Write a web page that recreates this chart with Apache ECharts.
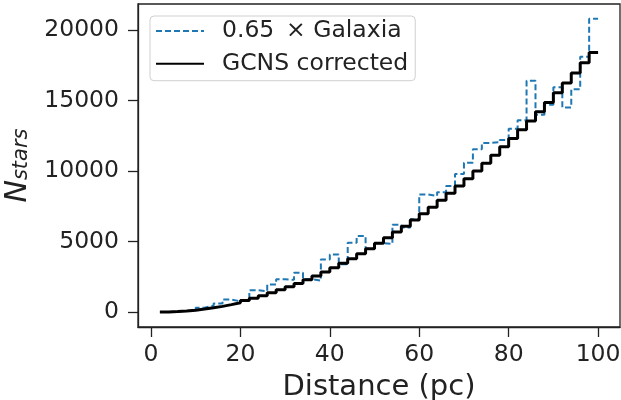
<!DOCTYPE html>
<html>
<head>
<meta charset="utf-8">
<script src="https://cdn.jsdelivr.net/npm/echarts@6/dist/echarts.min.js"></script>
<style>
html,body{margin:0;padding:0;background:#fff;}
#chart{width:621px;height:400px;}
</style>
</head>
<body>
<div id="chart"></div>
<script>
// Bin left edges (pc), bin width 2 pc, last edge 100
const binEdges = [2,4,6,8,10,12,14,16,18,20,22,24,26,28,30,32,34,36,38,40,42,44,46,48,50,52,54,56,58,60,62,64,66,68,70,72,74,76,78,80,82,84,86,88,90,92,94,96,98,100];
// 0.65 x Galaxia counts per bin
const galaxia = [20,60,100,170,330,470,620,900,780,900,1560,1500,1970,2350,2300,2800,2350,2250,3750,4100,3400,4930,5400,4500,4900,4850,6200,6000,6600,8350,8250,8500,8950,9800,10600,11550,12000,12050,12200,13000,13600,16400,14000,14700,15950,14500,15800,18100,20800];
// GCNS corrected counts per bin
const gcns = [20,50,95,150,230,320,420,545,680,830,1000,1180,1380,1590,1820,2050,2310,2580,2860,3160,3470,3800,4150,4510,4890,5280,5690,6100,6540,6990,7450,7930,8430,8940,9470,10010,10560,11130,11720,12320,12930,13560,14210,14870,15550,16240,16950,17670,18400];
const xTicks = [0,20,40,60,80,100];
const yTicks = [0,5000,10000,15000,20000];
const seriesNames = ['0.65\u2002× Galaxia', 'GCNS corrected'];

function stepData(vals){
  const out = [];
  for (let i = 0; i < vals.length; i++) out.push([binEdges[i], vals[i]]);
  out.push([binEdges[vals.length], vals[vals.length-1]]);
  return out;
}

const FONT = 'DejaVu Sans';
const FS = 23.5;
const chart = echarts.init(document.getElementById('chart'), null, {renderer:'canvas'});
chart.setOption({
  animation:false,
  backgroundColor:'#fff',
  textStyle:{fontFamily:FONT},
  grid:{left:138, right:1, top:4, bottom:73, containLabel:false, outerBoundsMode:'none',
        show:true, borderColor:'#222', borderWidth:1.3, backgroundColor:'transparent'},
  legend:{
    orient:'vertical', left:150, top:16,
    padding:[3,7,5,5], itemGap:8.7,
    itemWidth:48, itemHeight:14,
    backgroundColor:'rgba(255,255,255,0.8)', borderColor:'#d0d0d0', borderWidth:1, borderRadius:4,
    itemStyle:{opacity:0},
    textStyle:{fontFamily:FONT, fontSize:FS, color:'#222', padding:[0,0,0,13], lineHeight:24},
    data:seriesNames
  },
  xAxis:{
    type:'value', min:-2.9, max:104.9,
    name:'Distance (pc)', nameLocation:'middle', nameGap:46,
    nameTextStyle:{fontFamily:FONT, fontSize:29, color:'#222'},
    axisLine:{show:true, onZero:false, lineStyle:{color:'#222', width:1.3}},
    axisTick:{show:true, length:10, lineStyle:{color:'#222', width:1.3}, customValues:xTicks},
    axisLabel:{fontFamily:FONT, fontSize:FS, color:'#222', margin:16, customValues:xTicks, formatter:function(v){return String(v);}},
    splitLine:{show:false}
  },
  yAxis:{
    type:'value', min:-1040, max:21840,
    name:'{n|N}{s|stars}', nameLocation:'middle', nameGap:95, nameRotate:90,
    nameTextStyle:{
      rich:{
        n:{fontFamily:FONT, fontSize:30, fontStyle:'italic', color:'#222', padding:[0,0,7,0]},
        s:{fontFamily:FONT, fontSize:21, fontStyle:'italic', color:'#222'}
      }
    },
    axisLine:{show:true, onZero:false, lineStyle:{color:'#222', width:1.3}},
    axisTick:{show:true, length:10, lineStyle:{color:'#222', width:1.3}, customValues:yTicks},
    axisLabel:{fontFamily:FONT, fontSize:FS, color:'#222', margin:19, customValues:yTicks, formatter:function(v){return String(v);}},
    splitLine:{show:false}
  },
  series:[
    {
      name:seriesNames[0], type:'line', step:'end', symbol:'none',
      data:stepData(galaxia),
      lineStyle:{color:'#1f77b4', width:2, type:[6,3]},
      itemStyle:{color:'#1f77b4'}
    },
    {
      name:seriesNames[1], type:'line', step:'end', symbol:'none',
      data:stepData(gcns),
      lineStyle:{color:'#000', width:3},
      itemStyle:{color:'#000'}
    }
  ]
});
</script>
</body>
</html>
